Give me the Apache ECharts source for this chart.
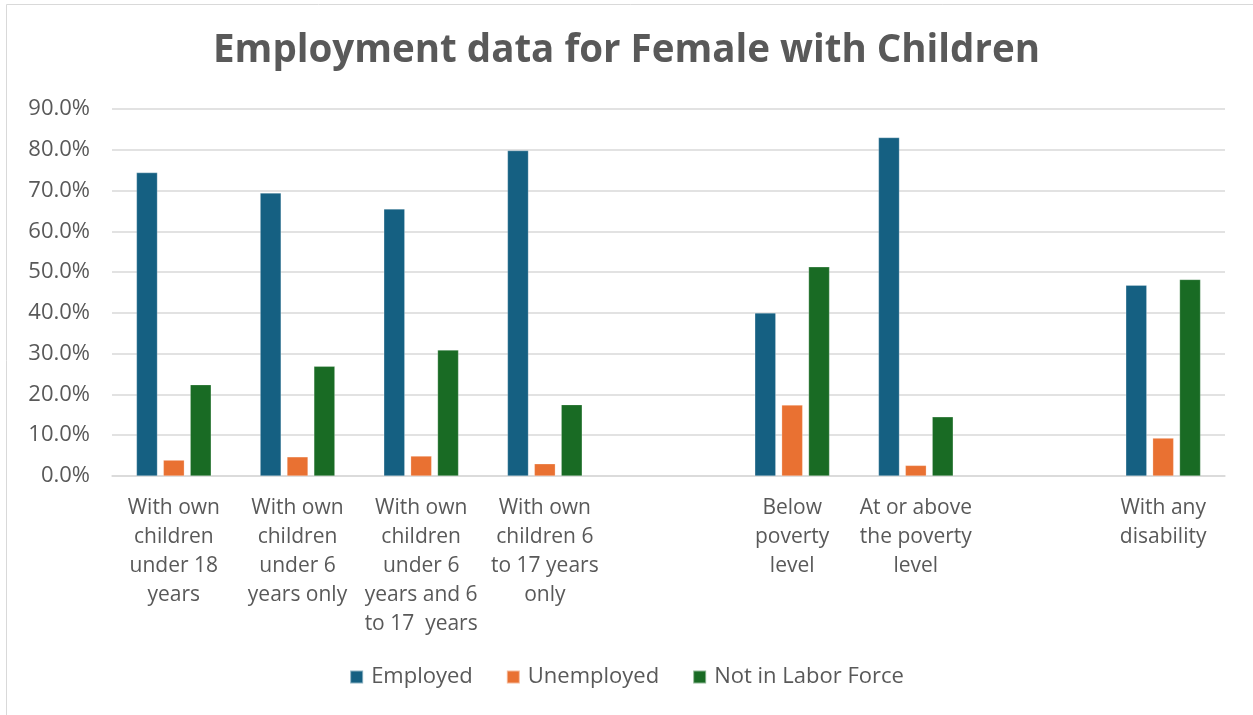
<!DOCTYPE html>
<html>
<head>
<meta charset="utf-8">
<script src="https://cdn.jsdelivr.net/npm/echarts@6/dist/echarts.min.js"></script>
<style>
html,body{margin:0;padding:0;background:#fff;}
#chart{width:1253px;height:715px;}
</style>
</head>
<body>
<div id="chart"></div>
<script>
const categories = [
  'With own\nchildren\nunder 18\nyears',
  'With own\nchildren\nunder 6\nyears only',
  'With own\nchildren\nunder 6\nyears and 6\nto 17  years',
  'With own\nchildren 6\nto 17 years\nonly',
  '',
  'Below\npoverty\nlevel',
  'At or above\nthe poverty\nlevel',
  '',
  'With any\ndisability'
];
const employed = [74.4, 69.4, 65.5, 79.8, null, 40.0, 83.0, null, 46.8];
const unemployed = [3.9, 4.7, 4.9, 3.0, null, 17.4, 2.6, null, 9.3];
const notInLaborForce = [22.4, 26.9, 30.9, 17.5, null, 51.3, 14.5, null, 48.2];
const seriesNames = ['Employed', 'Unemployed', 'Not in Labor Force'];
const colors = ['#156082', '#E97132', '#196B24'];

const FONT = '"Open Sans", "Liberation Sans", sans-serif';
const chart = echarts.init(document.getElementById('chart'), null, {renderer: 'canvas'});
const barStyle = (c) => ({color: c, borderColor: 'rgba(255,255,255,0.5)', borderWidth: 0.5});
chart.setOption({
  animation: false,
  color: colors,
  graphic: [{
    type: 'rect', shape: {x: 6.5, y: 4.5, width: 1300, height: 800},
    style: {fill: 'none', stroke: '#d9d9d9', lineWidth: 1}, silent: true
  }],
  title: {
    text: 'Employment data for Female with Children',
    left: 'center', top: 27,
    textStyle: {fontFamily: FONT, fontWeight: 'bold', fontSize: 38.5, color: '#595959'}
  },
  legend: {
    data: seriesNames,
    bottom: 22, left: 'center',
    itemWidth: 13, itemHeight: 13, itemGap: 33,
    icon: 'rect',
    textStyle: {fontFamily: FONT, fontSize: 22, color: '#595959', padding: [0, 0, 0, 3]}
  },
  grid: {left: 112, right: 28, top: 109, bottom: 239, containLabel: false},
  xAxis: {
    type: 'category',
    data: categories,
    axisTick: {show: false},
    axisLine: {lineStyle: {color: '#d9d9d9', width: 1.5}},
    axisLabel: {
      interval: 0, margin: 18,
      fontFamily: FONT, fontSize: 21, color: '#595959', lineHeight: 29
    }
  },
  yAxis: {
    type: 'value', min: 0, max: 90, interval: 10,
    axisLine: {show: false}, axisTick: {show: false},
    splitLine: {lineStyle: {color: '#d9d9d9', width: 1.5}},
    axisLabel: {
      formatter: v => v.toFixed(1) + '%',
      fontFamily: FONT, fontSize: 22, color: '#595959', margin: 22
    }
  },
  series: [
    {name: seriesNames[0], type: 'bar', data: employed, barWidth: 21, barGap: '28%', itemStyle: barStyle(colors[0])},
    {name: seriesNames[1], type: 'bar', data: unemployed, barWidth: 21, barGap: '28%', itemStyle: barStyle(colors[1])},
    {name: seriesNames[2], type: 'bar', data: notInLaborForce, barWidth: 21, barGap: '28%', itemStyle: barStyle(colors[2])}
  ]
});
</script>
</body>
</html>
